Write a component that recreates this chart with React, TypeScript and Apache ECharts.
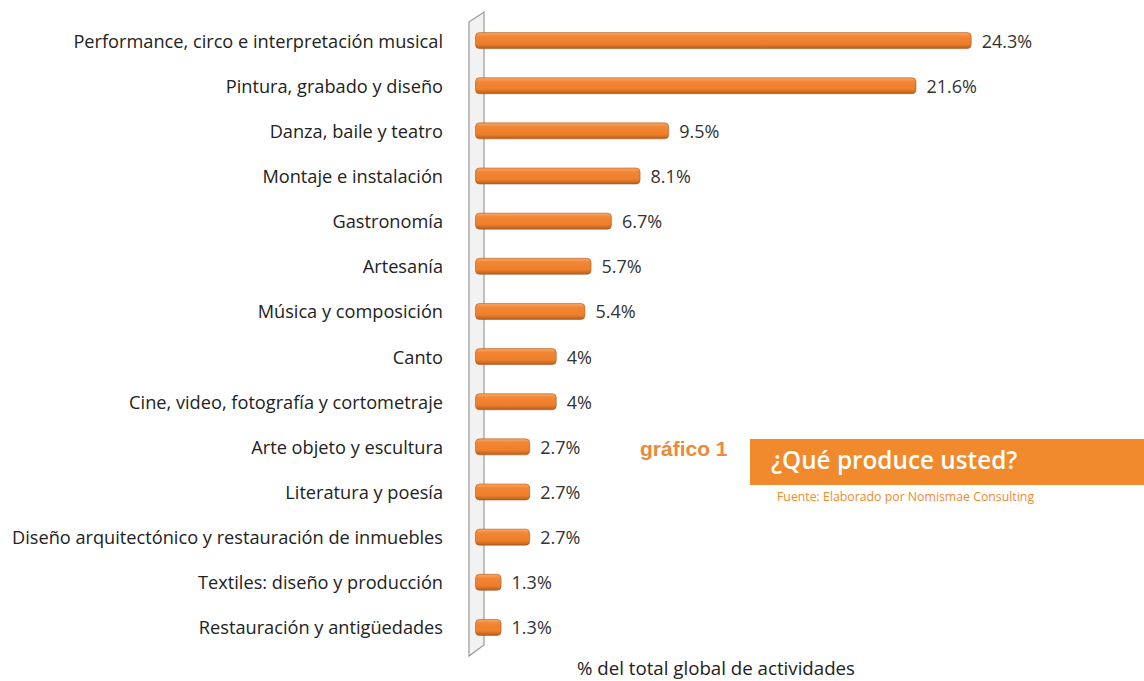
import React, { useEffect, useRef } from "react";
import * as echarts from "echarts";

const categories = [
  "Performance, circo e interpretación musical",
  "Pintura, grabado y diseño",
  "Danza, baile y teatro",
  "Montaje e instalación",
  "Gastronomía",
  "Artesanía",
  "Música y composición",
  "Canto",
  "Cine, video, fotografía y cortometraje",
  "Arte objeto y escultura",
  "Literatura y poesía",
  "Diseño arquitectónico y restauración de inmuebles",
  "Textiles: diseño y producción",
  "Restauración y antigüedades",
];
const values = [24.3, 21.6, 9.5, 8.1, 6.7, 5.7, 5.4, 4, 4, 2.7, 2.7, 2.7, 1.3, 1.3];

const FONT = "'Open Sans', 'Noto Sans', sans-serif";

export default function App() {
  const ref = useRef<HTMLDivElement>(null);
  useEffect(() => {
    const chart = echarts.init(ref.current!, null, { renderer: "svg" });
    chart.setOption({
      animation: false,
      backgroundColor: "#ffffff",
      grid: { left: 475, right: 158, top: 18, bottom: 31, containLabel: false },
      xAxis: {
        type: "value",
        min: 0,
        max: 25,
        show: false,
      },
      yAxis: {
        type: "category",
        data: categories,
        inverse: true,
        axisLine: { show: false },
        axisTick: { show: false },
        axisLabel: {
          margin: 32,
          fontSize: 18.2,
          color: "#222",
          fontFamily: FONT,
        },
      },
      graphic: [
        {
          type: "polygon",
          z: 0,
          shape: { points: [[469, 22], [484, 12], [484, 645], [469, 656]] },
          style: { fill: "#f2f2f2", stroke: "#9a9a9a", lineWidth: 1.2 },
        },
        {
          type: "text",
          left: 640,
          top: 438,
          style: {
            text: "gráfico 1",
            fill: "#EB8A3E",
            font: "bold 21px 'Liberation Sans', Arial, sans-serif",
          },
        },
        {
          type: "rect",
          shape: { x: 750, y: 439, width: 394, height: 46 },
          style: { fill: "#F08A2C" },
        },
        {
          type: "text",
          left: 771,
          top: 447,
          style: {
            text: "¿Qué produce usted?",
            fill: "#ffffff",
            font: "600 24.3px " + FONT,
          },
        },
        {
          type: "text",
          left: 777,
          top: 490,
          style: {
            text: "Fuente: Elaborado por Nomismae Consulting",
            fill: "#F08A2C",
            font: "12.3px " + FONT,
          },
        },
        {
          type: "text",
          left: 577,
          top: 658,
          style: {
            text: "% del total global de actividades",
            fill: "#222",
            font: "18.7px " + FONT,
          },
        },
      ],
      series: [
        {
          type: "bar",
          data: values,
          barWidth: 17,
          z: 3,
          itemStyle: {
            borderRadius: 4,
            borderColor: "rgba(165,80,25,0.55)",
            borderWidth: 1,
            color: new echarts.graphic.LinearGradient(0, 0, 0, 1, [
              { offset: 0, color: "#F8A864" },
              { offset: 0.25, color: "#F28634" },
              { offset: 0.72, color: "#EE7E2A" },
              { offset: 1, color: "#B3601F" },
            ]),
          },
          label: {
            show: true,
            position: "right",
            distance: 10,
            fontSize: 18,
            color: "#333",
            fontFamily: FONT,
            formatter: (p: any) => `${p.value}%`,
          },
        },
      ],
    });
    return () => chart.dispose();
  }, []);
  return (
    <div
      ref={ref}
      style={{ position: "fixed", left: 0, top: 0, width: 1144, height: 681 }}
    />
  );
}
